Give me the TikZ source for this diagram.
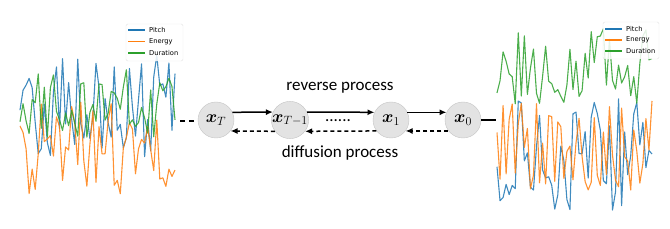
\documentclass[tikz,border=0pt]{standalone}
\usepackage{fontspec}
\setmainfont{Carlito}
\newfontfamily\legendfont{DejaVu Sans}
\usepackage{amsmath}
\usetikzlibrary{arrows.meta}
\definecolor{pitchblue}{HTML}{1F77B4}
\definecolor{energyorange}{HTML}{FF7F0E}
\definecolor{durgreen}{HTML}{2CA02C}
\definecolor{statefill}{HTML}{E3E3E3}
\definecolor{stateline}{HTML}{C4C4C4}
\tikzset{
  state/.style={circle, fill=statefill, draw=stateline, thin, minimum size=36pt, inner sep=0pt, font=\fontsize{17}{20}\selectfont},
  curve/.style={line width=1.1pt, opacity=0.85, line join=round},
  legendbox/.style={draw=gray!25, fill=white, rounded corners=1.5pt, opacity=0.85},
  legendtext/.style={font=\legendfont\fontsize{6.7}{8}\selectfont, anchor=west, inner sep=0pt},
  fwd/.style={-{Latex[length=7pt,width=6pt]}, line width=1.5pt},
  bwd/.style={-{Latex[length=7pt,width=6pt]}, line width=1.5pt, dash pattern=on 4pt off 3pt},
}
\begin{document}
\begin{tikzpicture}[x=1pt, y=-1pt]
    \useasboundingbox (0,0) rectangle (670,229);

    % Left chart: noisy features
    \pgfmathsetseed{11}
    \draw[curve, pitchblue] plot[domain=20:175, samples=52] (\x, {108+58*rand});
    \pgfmathsetseed{23}
    \draw[curve, energyorange] plot[domain=20:175, samples=52] (\x, {152+50*rand});
    \pgfmathsetseed{37}
    \draw[curve, durgreen] plot[domain=20:175, samples=52] (\x, {105+36*rand});

    % Left legend
    \draw[legendbox] (126,24) rectangle (183,61);
    \draw[pitchblue, line width=1.1pt] (128,30) -- (145,30);
    \draw[energyorange, line width=1.1pt] (128,41.5) -- (145,41.5);
    \draw[durgreen, line width=1.1pt] (128,53) -- (145,53);
    \node[legendtext] (lpitch) at (149,30) {Pitch};
    \node[legendtext] (lenergy) at (149,41.5) {Energy};
    \node[legendtext] (lduration) at (149,53) {Duration};

    % Right chart: clean features
    \pgfmathsetseed{41}
    \draw[curve, pitchblue] plot[domain=497:652, samples=52] (\x, {150+60*rand});
    \pgfmathsetseed{53}
    \draw[curve, energyorange] plot[domain=497:652, samples=52] (\x, {145+45*rand});
    \pgfmathsetseed{67}
    \draw[curve, durgreen] plot[domain=497:652, samples=52] (\x, {66+38*rand});

    % Right legend
    \draw[legendbox] (603,22) rectangle (659,59);
    \draw[pitchblue, line width=1.1pt] (605,29) -- (622,29);
    \draw[energyorange, line width=1.1pt] (605,40) -- (622,40);
    \draw[durgreen, line width=1.1pt] (605,51) -- (622,51);
    \node[legendtext] (rpitch) at (626,29) {Pitch};
    \node[legendtext] (renergy) at (626,40) {Energy};
    \node[legendtext] (rduration) at (626,51) {Duration};

    % States of the chain
    \node[state] (xT) at (216,120) {$\boldsymbol{x}_T$};
    \node[state] (xTm) at (290,120) {$\boldsymbol{x}_{T-1}$};
    \node[state] (xone) at (391,120) {$\boldsymbol{x}_1$};
    \node[state] (xzero) at (463,120) {$\boldsymbol{x}_0$};
    \node[font=\fontsize{17}{20}\selectfont] (dots) at (338,121) {......};
    \coordinate (lend) at (180,121);
    \coordinate (rend) at (496,120);

    % Connectors
    \draw[line width=1.5pt, dash pattern=on 5pt off 4pt] (lend) -- (xT.west |- lend);
    \draw[line width=1.5pt] (xzero.east) -- (rend);
    \draw[fwd] (xT.25) -- (xTm.155);
    \draw[fwd] (xTm.25) -- (xone.155);
    \draw[fwd] (xone.25) -- (xzero.155);
    \draw[bwd] (xzero.-143) -- (xone.-37);
    \draw[bwd] (xone.-143) -- (xTm.-37);
    \draw[bwd] (xTm.-143) -- (xT.-37);

    % Labels
    \node[font=\fontsize{17}{20}\selectfont] (rev) at (340,88) {reverse process};
    \node[font=\fontsize{17}{20}\selectfont] (diff) at (340,153) {diffusion process};
\end{tikzpicture}
\end{document}
